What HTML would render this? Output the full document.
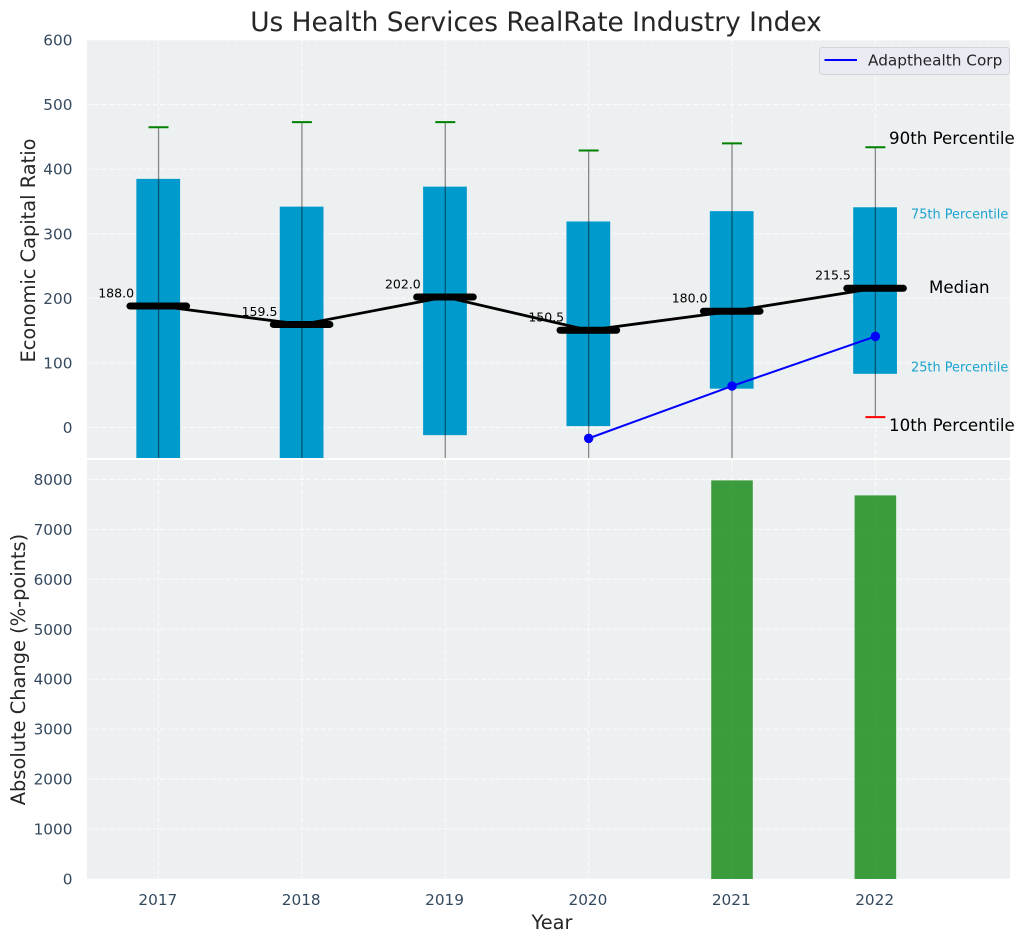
<!DOCTYPE html>
<html lang="en">
<head>
<meta charset="utf-8">
<title>Us Health Services RealRate Industry Index</title>
<style>
html,body{margin:0;padding:0;background:#fff;width:1026px;height:942px;overflow:hidden}
svg{display:block}
text{font-family:"DejaVu Sans","Liberation Sans",sans-serif}
</style>
</head>
<body>
<svg id="chart" xmlns="http://www.w3.org/2000/svg" width="1026" height="942" viewBox="0 0 1026 942">
  <defs><clipPath id="top-clip"><rect x="87" y="40" width="923" height="418"></rect></clipPath></defs>
  <rect x="87" y="40" width="923" height="418" fill="#ecf0f1"></rect>
  <rect x="87" y="460" width="923" height="419" fill="#ecf0f1"></rect>
  <g id="top-grid"></g>
  <g id="bottom-grid"></g>
  <g id="top-marks" clip-path="url(#top-clip)"></g>
  <g id="bottom-marks"></g>
  <g id="tick-labels"></g>
  <text x="536" y="31" text-anchor="middle" font-size="26.4" fill="#262626">Us Health Services RealRate Industry Index</text>
  <text transform="translate(35 250.5) rotate(-90)" text-anchor="middle" font-size="19.4" fill="#262626">Economic Capital Ratio</text>
  <text transform="translate(25 669.5) rotate(-90)" text-anchor="middle" font-size="19.4" fill="#262626">Absolute Change (%-points)</text>
  <text x="552" y="929" text-anchor="middle" font-size="19.4" fill="#262626">Year</text>
  <text x="889" y="144" font-size="16.67" fill="#000">90th Percentile</text>
  <text x="911" y="218.5" font-size="12.9" fill="#1ba3cf">75th Percentile</text>
  <text x="929" y="293" font-size="16.67" fill="#000">Median</text>
  <text x="911" y="371.5" font-size="12.9" fill="#1ba3cf">25th Percentile</text>
  <text x="889" y="431" font-size="16.67" fill="#000">10th Percentile</text>
  <g>
    <rect x="819.5" y="47.5" width="190" height="27" rx="3" fill="#eaeaf2" stroke="#d3d5d8" stroke-width="1"></rect>
    <line x1="824.5" y1="60" x2="857" y2="60" stroke="#0000ff" stroke-width="2"></line>
    <text x="868" y="65.5" font-size="15.3" fill="#262626">Adapthealth Corp</text>
  </g>
</svg>
<script>
const years = [2017, 2018, 2019, 2020, 2021, 2022];
const p90 = [465, 473, 473, 429, 440, 434];
const p75 = [385, 342, 373, 319, 335, 341];
const medians = [188.0, 159.5, 202.0, 150.5, 180.0, 215.5];
const p25 = [-60, -70, -12, 2, 60, 83];
const p10 = [-120, -130, -90, -60, -50, 16];
const companyYears = [2020, 2021, 2022];
const companyValues = [-17, 64, 141];
const changeYears = [2021, 2022];
const changeValues = [7980, 7680];
const topTicks = [0, 100, 200, 300, 400, 500, 600];
const bottomTicks = [0, 1000, 2000, 3000, 4000, 5000, 6000, 7000, 8000];

const X_MIN = 2016.501, X_MAX = 2022.939;
const LEFT = 87, RIGHT = 1010;
function xScale(v) { return LEFT + (v - X_MIN) / (X_MAX - X_MIN) * (RIGHT - LEFT); }
function yTop(v) { return 427.4 - v * 0.6455; }
function yBottom(v) { return 879 - v * 0.04995; }
const NS = 'http://www.w3.org/2000/svg';
const YEAR_PX = xScale(1) - xScale(0);

function make(parent, tag, attrs, text) {
  const el = document.createElementNS(NS, tag);
  for (const k in attrs) el.setAttribute(k, attrs[k]);
  if (text !== undefined) el.textContent = text;
  parent.appendChild(el);
  return el;
}
const topGrid = document.getElementById('top-grid');
const bottomGrid = document.getElementById('bottom-grid');
const topMarks = document.getElementById('top-marks');
const bottomMarks = document.getElementById('bottom-marks');
const tickLabels = document.getElementById('tick-labels');
const gridStyle = { stroke: '#ffffff', 'stroke-opacity': 0.8, 'stroke-width': 1, 'stroke-dasharray': '5.1 2.2' };
const TICK_SIZE = 15.3;

topTicks.forEach(function (t) {
  const g = make(topGrid, 'line', Object.assign({ x1: LEFT, x2: RIGHT, y1: yTop(t), y2: yTop(t) }, gridStyle));
  
  
  const lab = make(tickLabels, 'text', { x: 72.5, y: yTop(t) + 5.5, 'text-anchor': 'end', 'font-size': TICK_SIZE, fill: '#34495e' }, String(t));
  
  
});
bottomTicks.forEach(function (t) {
  const g = make(bottomGrid, 'line', Object.assign({ x1: LEFT, x2: RIGHT, y1: yBottom(t), y2: yBottom(t) }, gridStyle));
  
  
  const lab = make(tickLabels, 'text', { x: 72.5, y: yBottom(t) + 5.5, 'text-anchor': 'end', 'font-size': TICK_SIZE, fill: '#34495e' }, String(t));
  
  
});

years.forEach(function (yr, i) {
  const x = xScale(yr);
  const g1 = make(topGrid, 'line', Object.assign({ x1: x, x2: x, y1: 40, y2: 458 }, gridStyle));
  
  
  const g2 = make(bottomGrid, 'line', Object.assign({ x1: x, x2: x, y1: 460, y2: 879 }, gridStyle));
  
  
  const lab = make(tickLabels, 'text', { x: x - 0.7, y: 905, 'text-anchor': 'middle', 'font-size': TICK_SIZE, fill: '#34495e' }, String(yr));
  
  

  const boxW = 0.305 * YEAR_PX;
  const box = make(topMarks, 'rect', { x: x - boxW / 2 - 0.3, y: yTop(p75[i]), width: boxW, height: yTop(p25[i]) - yTop(p75[i]), fill: '#009acd' });
  
  
  const whisker = make(topMarks, 'line', { x1: x, x2: x, y1: yTop(p90[i]), y2: yTop(p10[i]), stroke: '#000', 'stroke-opacity': 0.45, 'stroke-width': 1.3 });
  
  
  const capHi = make(topMarks, 'line', { x1: x - 10, x2: x + 10, y1: yTop(p90[i]), y2: yTop(p90[i]), stroke: '#008000', 'stroke-width': 2 });
  
  
  const capLo = make(topMarks, 'line', { x1: x - 10, x2: x + 10, y1: yTop(p10[i]), y2: yTop(p10[i]), stroke: '#ff0000', 'stroke-width': 2 });
  
  
  const valueLabel = make(topMarks, 'text', { x: x - 24.5, y: yTop(medians[i]) - 8.6, 'text-anchor': 'end', 'font-size': 12.5, fill: '#000' }, medians[i].toFixed(1));
  
  
});

const medianLine = make(topMarks, 'polyline', {
  points: years.map(function (yr, i) { return xScale(yr) + ',' + yTop(medians[i]); }).join(' '),
  fill: 'none', stroke: '#000', 'stroke-width': 2.8
});



years.forEach(function (yr, i) {
  const x = xScale(yr);
  const bar = make(topMarks, 'line', { x1: x - 28.6, x2: x + 28, y1: yTop(medians[i]), y2: yTop(medians[i]), stroke: '#000', 'stroke-width': 7, 'stroke-linecap': 'round' });
  
  
});

const companyLine = make(topMarks, 'polyline', {
  points: companyYears.map(function (yr, i) { return xScale(yr) + ',' + yTop(companyValues[i]); }).join(' '),
  fill: 'none', stroke: '#0000ff', 'stroke-width': 2
});


companyYears.forEach(function (yr, i) {
  const pt = make(topMarks, 'circle', { cx: xScale(yr), cy: yTop(companyValues[i]), r: 4.7, fill: '#0000ff' });
  
  
});

changeYears.forEach(function (yr, i) {
  const barW = 0.29 * YEAR_PX;
  const bar = make(bottomMarks, 'rect', { x: xScale(yr) - barW / 2, y: yBottom(changeValues[i]), width: barW, height: yBottom(0) - yBottom(changeValues[i]), fill: '#008000', 'fill-opacity': 0.75 });
  
  
});
</script>
</body>
</html>
